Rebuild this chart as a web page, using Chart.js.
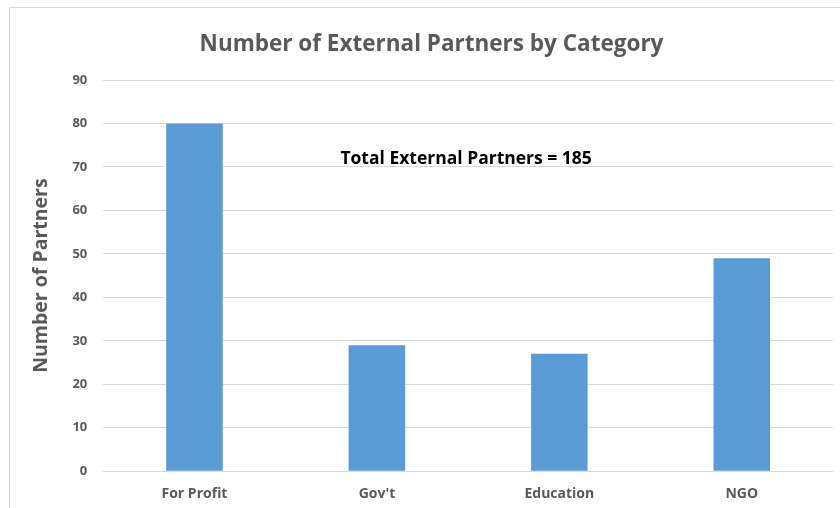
<!DOCTYPE html>
<html>
<head>
<meta charset="utf-8">
<script src="https://cdn.jsdelivr.net/npm/chart.js@4"></script>
<style>
  html, body { margin: 0; padding: 0; background: #fff; }
  #wrap { position: relative; width: 840px; height: 508px; }
</style>
</head>
<body>
<div id="wrap"><canvas id="chart" width="840" height="508"></canvas></div>
<script>
// Data
const categories = ['For Profit', "Gov't", 'Education', 'NGO'];
const partners = [80, 29, 27, 49];
const totalLabel = 'Total External Partners = 185';
const yMax = 90;
const yStep = 10;

const textColor = '#595959';
const fontFamily = '"Open Sans", Lato, sans-serif';

// draws the outer frame and the total note
const decorations = {
  id: 'decorations',
  beforeDraw(chart) {
    const ctx = chart.ctx;
    ctx.save();
    ctx.strokeStyle = '#d9d9d9';
    ctx.lineWidth = 1;
    ctx.strokeRect(9.5, 7.5, 900, 600);
    ctx.restore();
  },
  afterDatasetsDraw(chart) {
    const ctx = chart.ctx;
    const x = chart.scales.x.getPixelForValue(1.5);
    const y = chart.scales.y.getPixelForValue(71.9);
    ctx.save();
    ctx.fillStyle = '#000';
    ctx.font = 'bold 17.5px ' + fontFamily;
    ctx.textAlign = 'center';
    ctx.textBaseline = 'middle';
    ctx.fillText(totalLabel, x - 2, y);
    ctx.restore();
  }
};

new Chart(document.getElementById('chart'), {
  type: 'bar',
  data: {
    labels: categories,
    datasets: [{
      data: partners,
      backgroundColor: '#5b9bd5',
      borderWidth: 0,
      barPercentage: 1,
      categoryPercentage: 0.31
    }]
  },
  options: {
    responsive: false,
    animation: false,
    devicePixelRatio: 1,
    layout: { padding: { left: 30, right: 7, top: 0, bottom: 0 } },
    plugins: {
      legend: { display: false },
      tooltip: { enabled: false },
      title: {
        display: true,
        text: 'Number of External Partners by Category',
        color: textColor,
        font: { family: fontFamily, size: 22.5, weight: 'bold' },
        padding: { top: 31, bottom: 22 }
      }
    },
    scales: {
      x: {
        grid: { display: false },
        border: { display: false },
        ticks: {
          color: textColor,
          font: { family: fontFamily, size: 14, weight: 'bold' },
          padding: 6
        }
      },
      y: {
        min: 0,
        max: yMax,
        border: { display: false },
        grid: { color: '#d9d9d9', lineWidth: 1, drawTicks: false },
        ticks: {
          stepSize: yStep,
          color: textColor,
          font: { family: fontFamily, size: 13, weight: 'bold' },
          padding: 16
        },
        title: {
          display: true,
          text: 'Number of Partners',
          color: textColor,
          font: { family: fontFamily, size: 19.5, weight: 'bold' },
          padding: { top: 0, bottom: 3 }
        }
      }
    }
  },
  plugins: [decorations]
});
</script>
</body>
</html>
